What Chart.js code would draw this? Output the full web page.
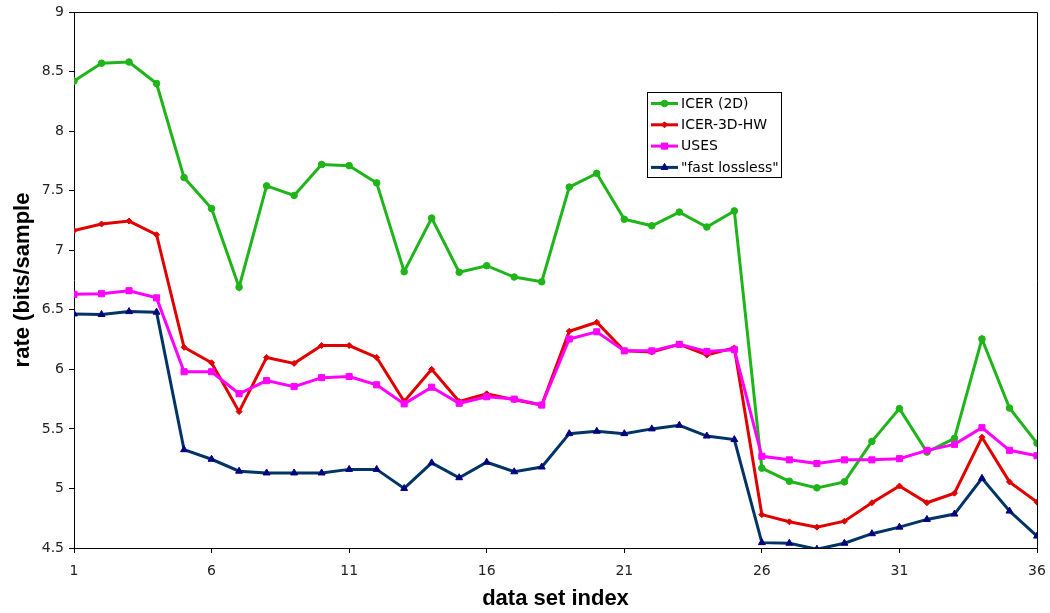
<!DOCTYPE html>
<html>
<head>
<meta charset="utf-8">
<script src="https://cdn.jsdelivr.net/npm/chart.js@4/dist/chart.umd.min.js"></script>
<style>
  html, body { margin: 0; padding: 0; background: #fff; }
  #wrap { position: relative; width: 1050px; height: 613px; }
  canvas { display: block; }
</style>
</head>
<body>
<div id="wrap"><canvas id="c" width="1050" height="613"></canvas></div>
<script>
// ---- data ----
const categories = [1,2,3,4,5,6,7,8,9,10,11,12,13,14,15,16,17,18,19,20,21,22,23,24,25,26,27,28,29,30,31,32,33,34,35,36];
const seriesNames = ['ICER (2D)', 'ICER-3D-HW', 'USES', '"fast lossless"'];
const icer2d = [8.42,8.57,8.58,8.40,7.61,7.35,6.69,7.54,7.46,7.72,
                7.71,7.565,6.82,7.27,6.815,6.87,6.775,6.735,7.53,7.645,
                7.26,7.205,7.32,7.195,7.33,5.17,5.06,5.005,5.055,5.395,
                5.67,5.305,5.42,6.255,5.675,5.38];
const icer3dhw = [7.165,7.22,7.245,7.13,6.185,6.055,5.645,6.10,6.05,6.20,
                  6.20,6.10,5.73,6.00,5.73,5.795,5.745,5.70,6.32,6.395,
                  6.155,6.145,6.21,6.12,6.18,4.78,4.72,4.675,4.725,4.88,
                  5.02,4.88,4.96,5.43,5.055,4.885];
const uses = [6.63,6.635,6.66,6.60,5.98,5.98,5.795,5.905,5.855,5.93,
              5.94,5.87,5.71,5.85,5.715,5.77,5.75,5.70,6.255,6.315,
              6.155,6.155,6.21,6.15,6.165,5.27,5.24,5.21,5.24,5.24,
              5.25,5.32,5.37,5.51,5.32,5.275];
const fastLossless = [6.465,6.46,6.485,6.48,5.325,5.245,5.145,5.13,5.13,5.13,
                      5.16,5.16,5.0,5.215,5.09,5.22,5.14,5.18,5.46,5.48,
                      5.46,5.50,5.53,5.44,5.41,4.545,4.54,4.49,4.54,4.62,
                      4.675,4.74,4.785,5.085,4.81,4.60];
const xTickLabels = [1,6,11,16,21,26,31,36];
const yTickLabels = [4.5,5,5.5,6,6.5,7,7.5,8,8.5,9];
const xTitle = 'data set index';
const yTitle = 'rate (bits/sample';

const toPoints = arr => categories.map((c, i) => ({ x: c, y: arr[i] }));

const frameLegend = {
  id: 'frameLegend',
  afterDraw(chart) {
    const ctx = chart.ctx;
    const a = chart.chartArea;
    ctx.save();
    ctx.strokeStyle = '#000';
    ctx.lineWidth = 1;
    ctx.beginPath();
    ctx.moveTo(a.left, a.top + 0.5);
    ctx.lineTo(a.right + 0.5, a.top + 0.5);
    ctx.lineTo(a.right + 0.5, a.bottom);
    ctx.stroke();
    // legend box
    const bx = 647.5, by = 92.5, bw = 134, bh = 85;
    ctx.fillStyle = '#fff';
    ctx.fillRect(bx, by, bw, bh);
    ctx.strokeStyle = '#000';
    ctx.lineWidth = 1;
    ctx.strokeRect(bx, by, bw, bh);
    ctx.font = '14px "DejaVu Sans"';
    ctx.textBaseline = 'middle';
    ctx.textAlign = 'left';
    chart.data.datasets.forEach((ds, i) => {
      const y = 103.5 + i * 21.3;
      ctx.strokeStyle = ds.borderColor;
      ctx.lineWidth = ds.borderWidth;
      ctx.beginPath();
      ctx.moveTo(651, y);
      ctx.lineTo(678, y);
      ctx.stroke();
      ctx.fillStyle = ds.pointBackgroundColor;
      ctx.strokeStyle = ds.pointBorderColor;
      ctx.lineWidth = 1;
      Chart.helpers.drawPoint(ctx, {
        pointStyle: ds.pointStyle, rotation: 0, radius: ds.pointRadius, borderWidth: 1
      }, 664.5, y);
      ctx.fillStyle = '#000';
      ctx.fillText(ds.label, 681, y + 0.5);
    });
    ctx.restore();
  }
};

const mk = (label, data, color, pColor, style, r, order) => ({
  label, data: toPoints(data), borderColor: color, backgroundColor: pColor,
  pointBackgroundColor: pColor, pointBorderColor: pColor, pointStyle: style,
  pointRadius: r, pointHoverRadius: r, pointBorderWidth: 1, borderWidth: 3,
  tension: 0, order
});

Chart.defaults.font.family = '"DejaVu Sans"';
Chart.defaults.color = '#222';

new Chart(document.getElementById('c'), {
  type: 'line',
  data: {
    datasets: [
      mk(seriesNames[0], icer2d, '#1fb51a', '#1fb51a', 'circle', 3.3, 4),
      mk(seriesNames[1], icer3dhw, '#e00000', '#e00000', 'rectRot', 3, 3),
      mk(seriesNames[2], uses, '#ff00ff', '#ff00ff', 'rect', 4.3, 2),
      mk(seriesNames[3], fastLossless, '#003366', '#000080', 'triangle', 4, 1)
    ]
  },
  options: {
    responsive: false,
    animation: false,
    devicePixelRatio: 1,
    layout: { padding: { left: 0, top: 12, right: 13, bottom: 0 } },
    plugins: { legend: { display: false }, tooltip: { enabled: false } },
    scales: {
      x: {
        type: 'linear', min: 1, max: 36,
        afterBuildTicks: s => { s.ticks = xTickLabels.map(v => ({ value: v })); },
        afterFit: s => { s.height = 65; s.paddingLeft = 0; s.paddingRight = 0; },
        grid: { drawOnChartArea: false, tickLength: 5, color: '#000' },
        border: { color: '#000', width: 1 },
        ticks: { font: { size: 14 }, color: '#222', padding: 10, maxRotation: 0,
                 callback: v => String(v) },
        title: { display: true, text: xTitle, color: '#000',
                 font: { family: '"Liberation Sans", Arial, sans-serif', size: 22, weight: 'bold' },
                 padding: { top: 0, bottom: 1 } }
      },
      y: {
        type: 'linear', min: 4.5, max: 9,
        afterBuildTicks: s => { s.ticks = yTickLabels.map(v => ({ value: v })); },
        afterFit: s => { s.width = 74; s.paddingTop = 0; s.paddingBottom = 0; },
        grid: { drawOnChartArea: false, tickLength: 5, color: '#000' },
        border: { color: '#000', width: 1 },
        ticks: { font: { size: 14 }, color: '#222', padding: 5,
                 callback: v => String(v) },
        title: { display: true, text: yTitle, color: '#000',
                 font: { family: '"Liberation Sans", Arial, sans-serif', size: 22, weight: 'bold' },
                 padding: { top: 10, bottom: 0 } }
      }
    }
  },
  plugins: [frameLegend]
});
</script>
</body>
</html>
